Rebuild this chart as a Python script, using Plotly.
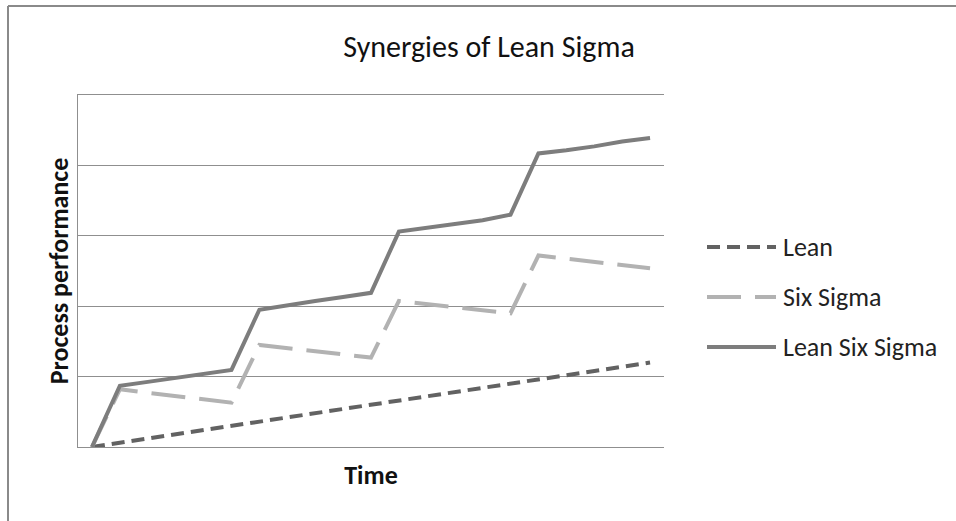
import plotly.graph_objects as go

# Time steps (21 periods, no tick labels shown)
periods = list(range(21))

# Process performance per period
lean = [0, 1.2, 2.4, 3.6, 4.8, 6.0, 7.2, 8.4, 9.6, 10.8, 12.0,
        13.2, 14.4, 15.6, 16.8, 18.0, 19.2, 20.4, 21.6, 22.8, 24.0]
six_sigma = [0, 16.4, 15.4, 14.5, 13.5, 12.6, 29.0, 28.1, 27.2, 26.3, 25.4,
             41.5, 40.6, 39.8, 38.9, 38.0, 54.4, 53.5, 52.6, 51.7, 50.8]
lean_six_sigma = [0, 17.4, 18.5, 19.6, 20.8, 21.9, 39.0, 40.3, 41.5, 42.6, 43.8,
                  61.2, 62.2, 63.2, 64.4, 66.0, 83.4, 84.3, 85.4, 86.8, 87.8]

series_names = ["Lean", "Six Sigma", "Lean Six Sigma"]
series_values = [lean, six_sigma, lean_six_sigma]
series_colors = ["#626262", "#b2b2b2", "#7d7d7d"]
series_dash = ["13px,7px", "34px,14px", "solid"]

FONT = "Carlito, Calibri, Lato, sans-serif"

W, H = 956, 521
L, R, T, B = 78, 292, 95, 74
pw, ph = W - L - R, H - T - B


def px_x(px):
    return (px - L) / pw


def px_y(py):
    return (H - B - py) / ph


fig = go.Figure()
for name, vals, col, dash in zip(series_names, series_values, series_colors, series_dash):
    fig.add_trace(go.Scatter(
        x=periods, y=vals, mode="lines", name=name, showlegend=False,
        line=dict(color=col, width=4, dash=dash),
        hoverinfo="skip",
    ))

shapes = []
annotations = []

# Outer frame: top and left edges
shapes.append(dict(type="line", xref="paper", yref="paper",
                   x0=px_x(8), x1=px_x(W + 5), y0=px_y(6), y1=px_y(6),
                   line=dict(color="#8a8a8a", width=2)))
shapes.append(dict(type="line", xref="paper", yref="paper",
                   x0=px_x(8), x1=px_x(8), y0=px_y(6), y1=px_y(H + 5),
                   line=dict(color="#8a8a8a", width=2)))

# Hand-built legend on the right
legend_rows = [247, 297, 347]
for name, col, dash, row in zip(series_names, series_colors, series_dash, legend_rows):
    shapes.append(dict(type="line", xref="paper", yref="paper",
                       x0=px_x(707), x1=px_x(776), y0=px_y(row), y1=px_y(row),
                       line=dict(color=col, width=4, dash=dash)))
    annotations.append(dict(xref="paper", yref="paper", x=px_x(781), y=px_y(row),
                            text=name, showarrow=False, xanchor="left", yanchor="middle",
                            font=dict(family=FONT, size=26, color="#222222")))

fig.update_layout(
    width=W, height=H,
    margin=dict(l=L, r=R, t=T, b=B),
    paper_bgcolor="white", plot_bgcolor="white",
    title=dict(text="Synergies of Lean Sigma", x=px_x(489), xref="paper",
               xanchor="center", y=1 - 46 / H, yanchor="middle",
               font=dict(family=FONT, size=30, color="#111111")),
    xaxis=dict(range=[-0.5, 20.5], showticklabels=False, showgrid=False,
               zeroline=False, showline=True, mirror=True,
               linecolor="#8f8f8f", linewidth=1, ticks="",
               title=dict(text="<b>Time</b>", standoff=18,
                          font=dict(family=FONT, size=26, color="#111111"))),
    yaxis=dict(range=[0, 100], dtick=20, showticklabels=False, showgrid=True,
               gridcolor="#8f8f8f", gridwidth=1, zeroline=False,
               showline=True, linecolor="#8f8f8f", linewidth=1, ticks="",
               title=dict(text="<b>Process performance</b>", standoff=0,
                          font=dict(family=FONT, size=26, color="#111111"))),
    shapes=shapes,
    annotations=annotations,
)

fig.write_html("out.html")
